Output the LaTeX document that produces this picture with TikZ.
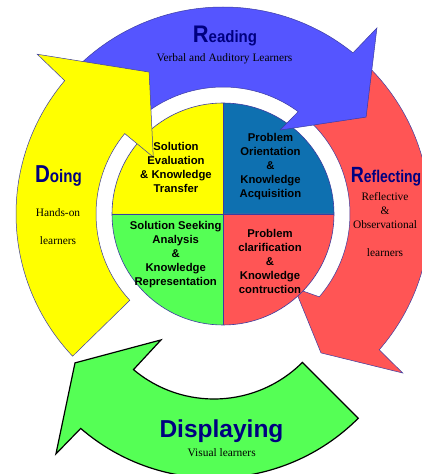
\documentclass[tikz,border=0pt]{standalone}
\usepackage{fontspec}
\setmainfont{Liberation Serif}
\setsansfont{Liberation Sans}
\usepackage{graphicx}
\definecolor{arblue}{RGB}{85,85,255}
\definecolor{aryellow}{RGB}{255,255,0}
\definecolor{arred}{RGB}{255,85,85}
\definecolor{argreen}{RGB}{85,255,85}
\definecolor{qblue}{RGB}{14,112,176}
\definecolor{edgecol}{RGB}{60,60,160}
\definecolor{ttlcol}{RGB}{0,0,128}
\begin{document}
\begin{tikzpicture}[x=1pt,y=1pt,
  arrowshape/.style={draw=edgecol, line width=0.5pt, line join=miter},
  quadtext/.style={font=\sffamily\bfseries\fontsize{11.3}{14}\selectfont, align=center, inner sep=0pt},
  subtext/.style={font=\fontsize{11.4}{13}\selectfont, inner sep=0pt},
  ttlstyle/.style={text=ttlcol, font=\sffamily\bfseries, inner sep=0pt, anchor=base}]
\useasboundingbox (0,0) rectangle (422,474);
\fill[white] (0,0) rectangle (422,474);
\clip (0,0) rectangle (422,474);
\coordinate (C) at (223,260);
\coordinate (G) at (214,200);

% red arrow (Reflecting)
\begin{scope}[shift={(C)}]
\filldraw[arrowshape, fill=arred] (47:207pt) arc[start angle=47, end angle=-41, radius=207pt]
  -- (-41.5:240pt) -- (-54.8:170pt) -- (-46:103pt) -- (-40.7:127pt)
  arc[start angle=-40.7, end angle=47, radius=127pt] -- cycle;
\end{scope}

% central circle
\begin{scope}[shift={(C)}]
\fill[aryellow] (0,0) -- (90:111pt) arc[start angle=90, end angle=180, radius=111pt] -- cycle;
\fill[qblue] (0,0) -- (0:111pt) arc[start angle=0, end angle=90, radius=111pt] -- cycle;
\fill[argreen] (0,0) -- (180:111pt) arc[start angle=180, end angle=270, radius=111pt] -- cycle;
\fill[arred] (0,0) -- (270:111pt) arc[start angle=270, end angle=360, radius=111pt] -- cycle;
\draw[edgecol, line width=0.6pt] (0,0) circle[radius=111pt];
\draw[edgecol, line width=0.6pt] (90:111pt) -- (270:111pt) (180:111pt) -- (0:111pt);
\end{scope}

% blue arrow (Reading)
\begin{scope}[shift={(C)}]
\filldraw[arrowshape, fill=arblue] (134:207pt) arc[start angle=134, end angle=51.1, radius=207pt]
  -- (50.4:241.5pt) -- (34.1:172.8pt) -- (55.8:101.5pt) -- (53.7:127pt)
  arc[start angle=53.7, end angle=134, radius=127pt] -- cycle;
\end{scope}

% yellow arrow (Doing)
\begin{scope}[shift={(C)}]
\filldraw[arrowshape, fill=aryellow] (223.4:207pt) arc[start angle=223.4, end angle=139.9, radius=207pt]
  -- (139.3:245pt) -- (117.5:160pt) -- (140.8:90pt) -- (140.7:127pt)
  arc[start angle=140.7, end angle=222.8, radius=127pt] -- cycle;
\end{scope}

% green arrow (Displaying)
\begin{scope}[shift={(G)}]
\filldraw[draw=black, line width=1.2pt, line join=miter, fill=argreen] (-45:204pt) arc[start angle=-45, end angle=-130.8, radius=204pt]
  -- (-131.3:239.5pt) -- (-147.4:165pt) -- (-128.8:84.6pt) -- (-130.1:125pt)
  arc[start angle=-130.1, end angle=-45, radius=125pt] -- cycle;
\end{scope}

% titles and subtitles
\node[ttlstyle] (read) at (225,431.3) {\scalebox{0.91}[1]{\fontsize{24}{24}\selectfont R\fontsize{16.5}{16.5}\selectfont eading}};
\node[subtext] (readsub) at (224.5,415.7) {Verbal and Auditory Learners};

\node[ttlstyle] (doing) at (58.5,291.3) {\scalebox{0.84}[1]{\fontsize{24.5}{24.5}\selectfont D\fontsize{18}{18}\selectfont oing}};
\node[subtext] (handson) at (58,261) {Hands-on};
\node[subtext] (handsonb) at (58,233) {learners};

\node[ttlstyle] (refl) at (386,291.3) {\scalebox{0.82}[1]{\fontsize{22}{22}\selectfont R\fontsize{17}{17}\selectfont eflecting}};
\node[subtext] (refla) at (385,277) {Reflective};
\node[subtext] (reflb) at (385,263) {\&};
\node[subtext] (reflc) at (385,249) {Observational};
\node[subtext] (refld) at (385,221.3) {learners};

\node[ttlstyle] (disp) at (221.5,36.3) {\fontsize{24.5}{24.5}\selectfont Displaying};
\node[subtext] (dispsub) at (221.7,21.7) {Visual learners};

% quadrant texts
\node[quadtext] (qtl) at (176,306.8) {Solution\\Evaluation\\\& Knowledge\\Transfer};
\node[quadtext] (qtr) at (270.5,307) {Problem\\Orientation\\\&\\Knowledge\\Acquisition};
\node[quadtext] (qbl) at (175.7,219.1) {Solution Seeking\\Analysis\\\&\\Knowledge\\Representation};
\node[quadtext] (qbr) at (270,212.3) {Problem\\clarification\\\&\\Knowledge\\contruction};
\end{tikzpicture}
\end{document}
